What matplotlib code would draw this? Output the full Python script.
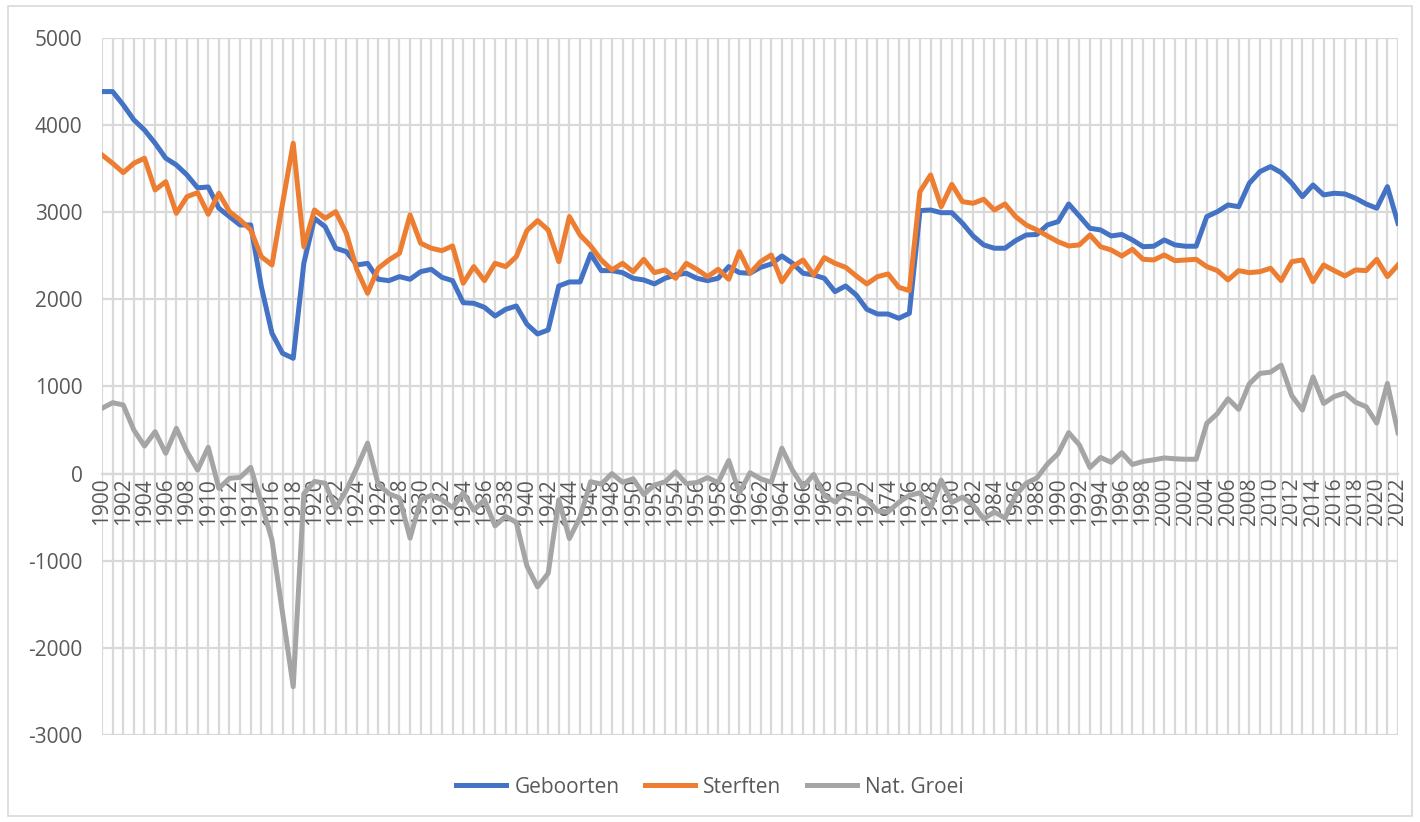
import numpy as np
import matplotlib.pyplot as plt
from matplotlib.patches import Rectangle

plt.rcParams['font.family'] = ['Open Sans', 'DejaVu Sans']
plt.rcParams['axes.unicode_minus'] = False

jaren = list(range(1900, 2023))

geboorten = [
    4385, 4385, 4232, 4060, 3944, 3792, 3620, 3543, 3428, 3280,
    3290, 3046, 2950, 2854, 2854, 2146, 1611, 1381, 1324, 2414,
    2930, 2835, 2587, 2548, 2395, 2414, 2231, 2215, 2261, 2231,
    2318, 2345, 2253, 2215, 1962, 1955, 1909, 1809, 1886, 1924,
    1715, 1603, 1649, 2154, 2200, 2200, 2521, 2330, 2330, 2307,
    2242, 2223, 2177, 2242, 2280, 2300, 2242, 2215, 2242, 2376,
    2307, 2300, 2368, 2406, 2498, 2414, 2300, 2280, 2242, 2089,
    2154, 2050, 1886, 1832, 1832, 1783, 1840, 3019, 3026, 2995,
    2995, 2874, 2728, 2625, 2587, 2587, 2674, 2739, 2745, 2854,
    2892, 3095, 2957, 2816, 2797, 2728, 2745, 2682, 2605, 2610,
    2682, 2625, 2610, 2610, 2950, 3007, 3084, 3064, 3333, 3466,
    3524, 3455, 3333, 3179, 3313, 3199, 3218, 3210, 3161, 3095,
    3046, 3294, 2874]

sterften = [
    3658, 3562, 3455, 3562, 3620, 3256, 3351, 2988, 3179, 3225,
    2977, 3218, 3007, 2912, 2797, 2490, 2395, 3103, 3792, 2605,
    3026, 2931, 3007, 2759, 2338, 2070, 2357, 2452, 2529, 2969,
    2644, 2587, 2559, 2613, 2185, 2376, 2215, 2414, 2376, 2490,
    2790, 2904, 2797, 2433, 2950, 2739, 2613, 2452, 2338, 2414,
    2318, 2460, 2307, 2338, 2242, 2414, 2345, 2261, 2345, 2231,
    2548, 2300, 2433, 2510, 2203, 2376, 2452, 2280, 2479, 2414,
    2368, 2269, 2177, 2261, 2292, 2139, 2100, 3237, 3428, 3064,
    3320, 3122, 3103, 3149, 3026, 3095, 2950, 2854, 2797, 2728,
    2662, 2613, 2625, 2739, 2605, 2567, 2498, 2575, 2460, 2452,
    2510, 2444, 2452, 2460, 2376, 2330, 2223, 2330, 2307, 2318,
    2357, 2215, 2433, 2452, 2203, 2395, 2330, 2269, 2338, 2330,
    2460, 2261, 2395]

nat_groei = [
    750, 814, 788, 500, 317, 481, 233, 520, 252, 41,
    302, -169, -54, -43, 72, -341, -762, -1604, -2446, -230,
    -90, -110, -400, -190, 70, 350, -120, -230, -280, -740,
    -300, -250, -300, -390, -220, -420, -300, -600, -490, -560,
    -1060, -1300, -1145, -300, -745, -500, -93, -120, 0, -100,
    -60, -240, -131, -95, 20, -114, -103, -46, -103, 150,
    -220, 10, -60, -100, 292, 38, -150, -10, -250, -325,
    -220, -230, -295, -430, -440, -330, -250, -220, -400, -75,
    -330, -270, -360, -520, -440, -510, -250, -110, -50, 110,
    230, 470, 330, 70, 185, 130, 240, 105, 140, 158,
    180, 170, 165, 165, 577, 690, 860, 738, 1030, 1150,
    1165, 1245, 895, 730, 1110, 805, 885, 925, 820, 768,
    580, 1035, 470]

tekst = '#595959'
raster = '#D9D9D9'

fig = plt.figure(figsize=(14.2, 8.22), dpi=100)
ax = fig.add_axes([102 / 1420, 1 - 735 / 822, 1296 / 1420, 697 / 822])

ax.plot(jaren, geboorten, color='#4472C4', lw=3.6, label='Geboorten', zorder=3)
ax.plot(jaren, sterften, color='#ED7D31', lw=3.6, label='Sterften', zorder=3)
ax.plot(jaren, nat_groei, color='#A5A5A5', lw=3.6, label='Nat. Groei', zorder=3)

# x-as op de nullijn, zoals in Excel
for s in ['top', 'right', 'left']:
    ax.spines[s].set_visible(False)
ax.spines['bottom'].set_position(('data', 0))
ax.spines['bottom'].set_color(raster)
ax.spines['bottom'].set_linewidth(1.6)

ax.set_xlim(1900, 2022)
ax.set_ylim(-3000, 5000)
ax.set_yticks(range(-3000, 5001, 1000))
ax.set_xticks(range(1900, 2023, 2))
ax.set_xticks(range(1901, 2023, 2), minor=True)
ax.set_xticklabels([str(j) for j in range(1900, 2023, 2)])

ax.grid(True, which='both', color=raster, lw=1.6, zorder=0)
ax.set_axisbelow(True)
ax.tick_params(axis='x', which='both', length=0, pad=3, labelsize=15,
               labelcolor=tekst, labelrotation=90)
ax.tick_params(axis='y', length=0, pad=14, labelsize=15, labelcolor=tekst)

fig.legend(loc='center', bbox_to_anchor=(0.5, 1 - 787 / 822), ncol=3, frameon=False,
           fontsize=15, labelcolor=tekst, handlelength=2.4, handletextpad=0.4,
           columnspacing=1.2)

fig.patches.append(Rectangle((8 / 1420, 6 / 822), 1404 / 1420, 810 / 822,
                             transform=fig.transFigure, fill=False,
                             edgecolor=raster, lw=1.2))

fig.savefig('out.png', dpi=100)
